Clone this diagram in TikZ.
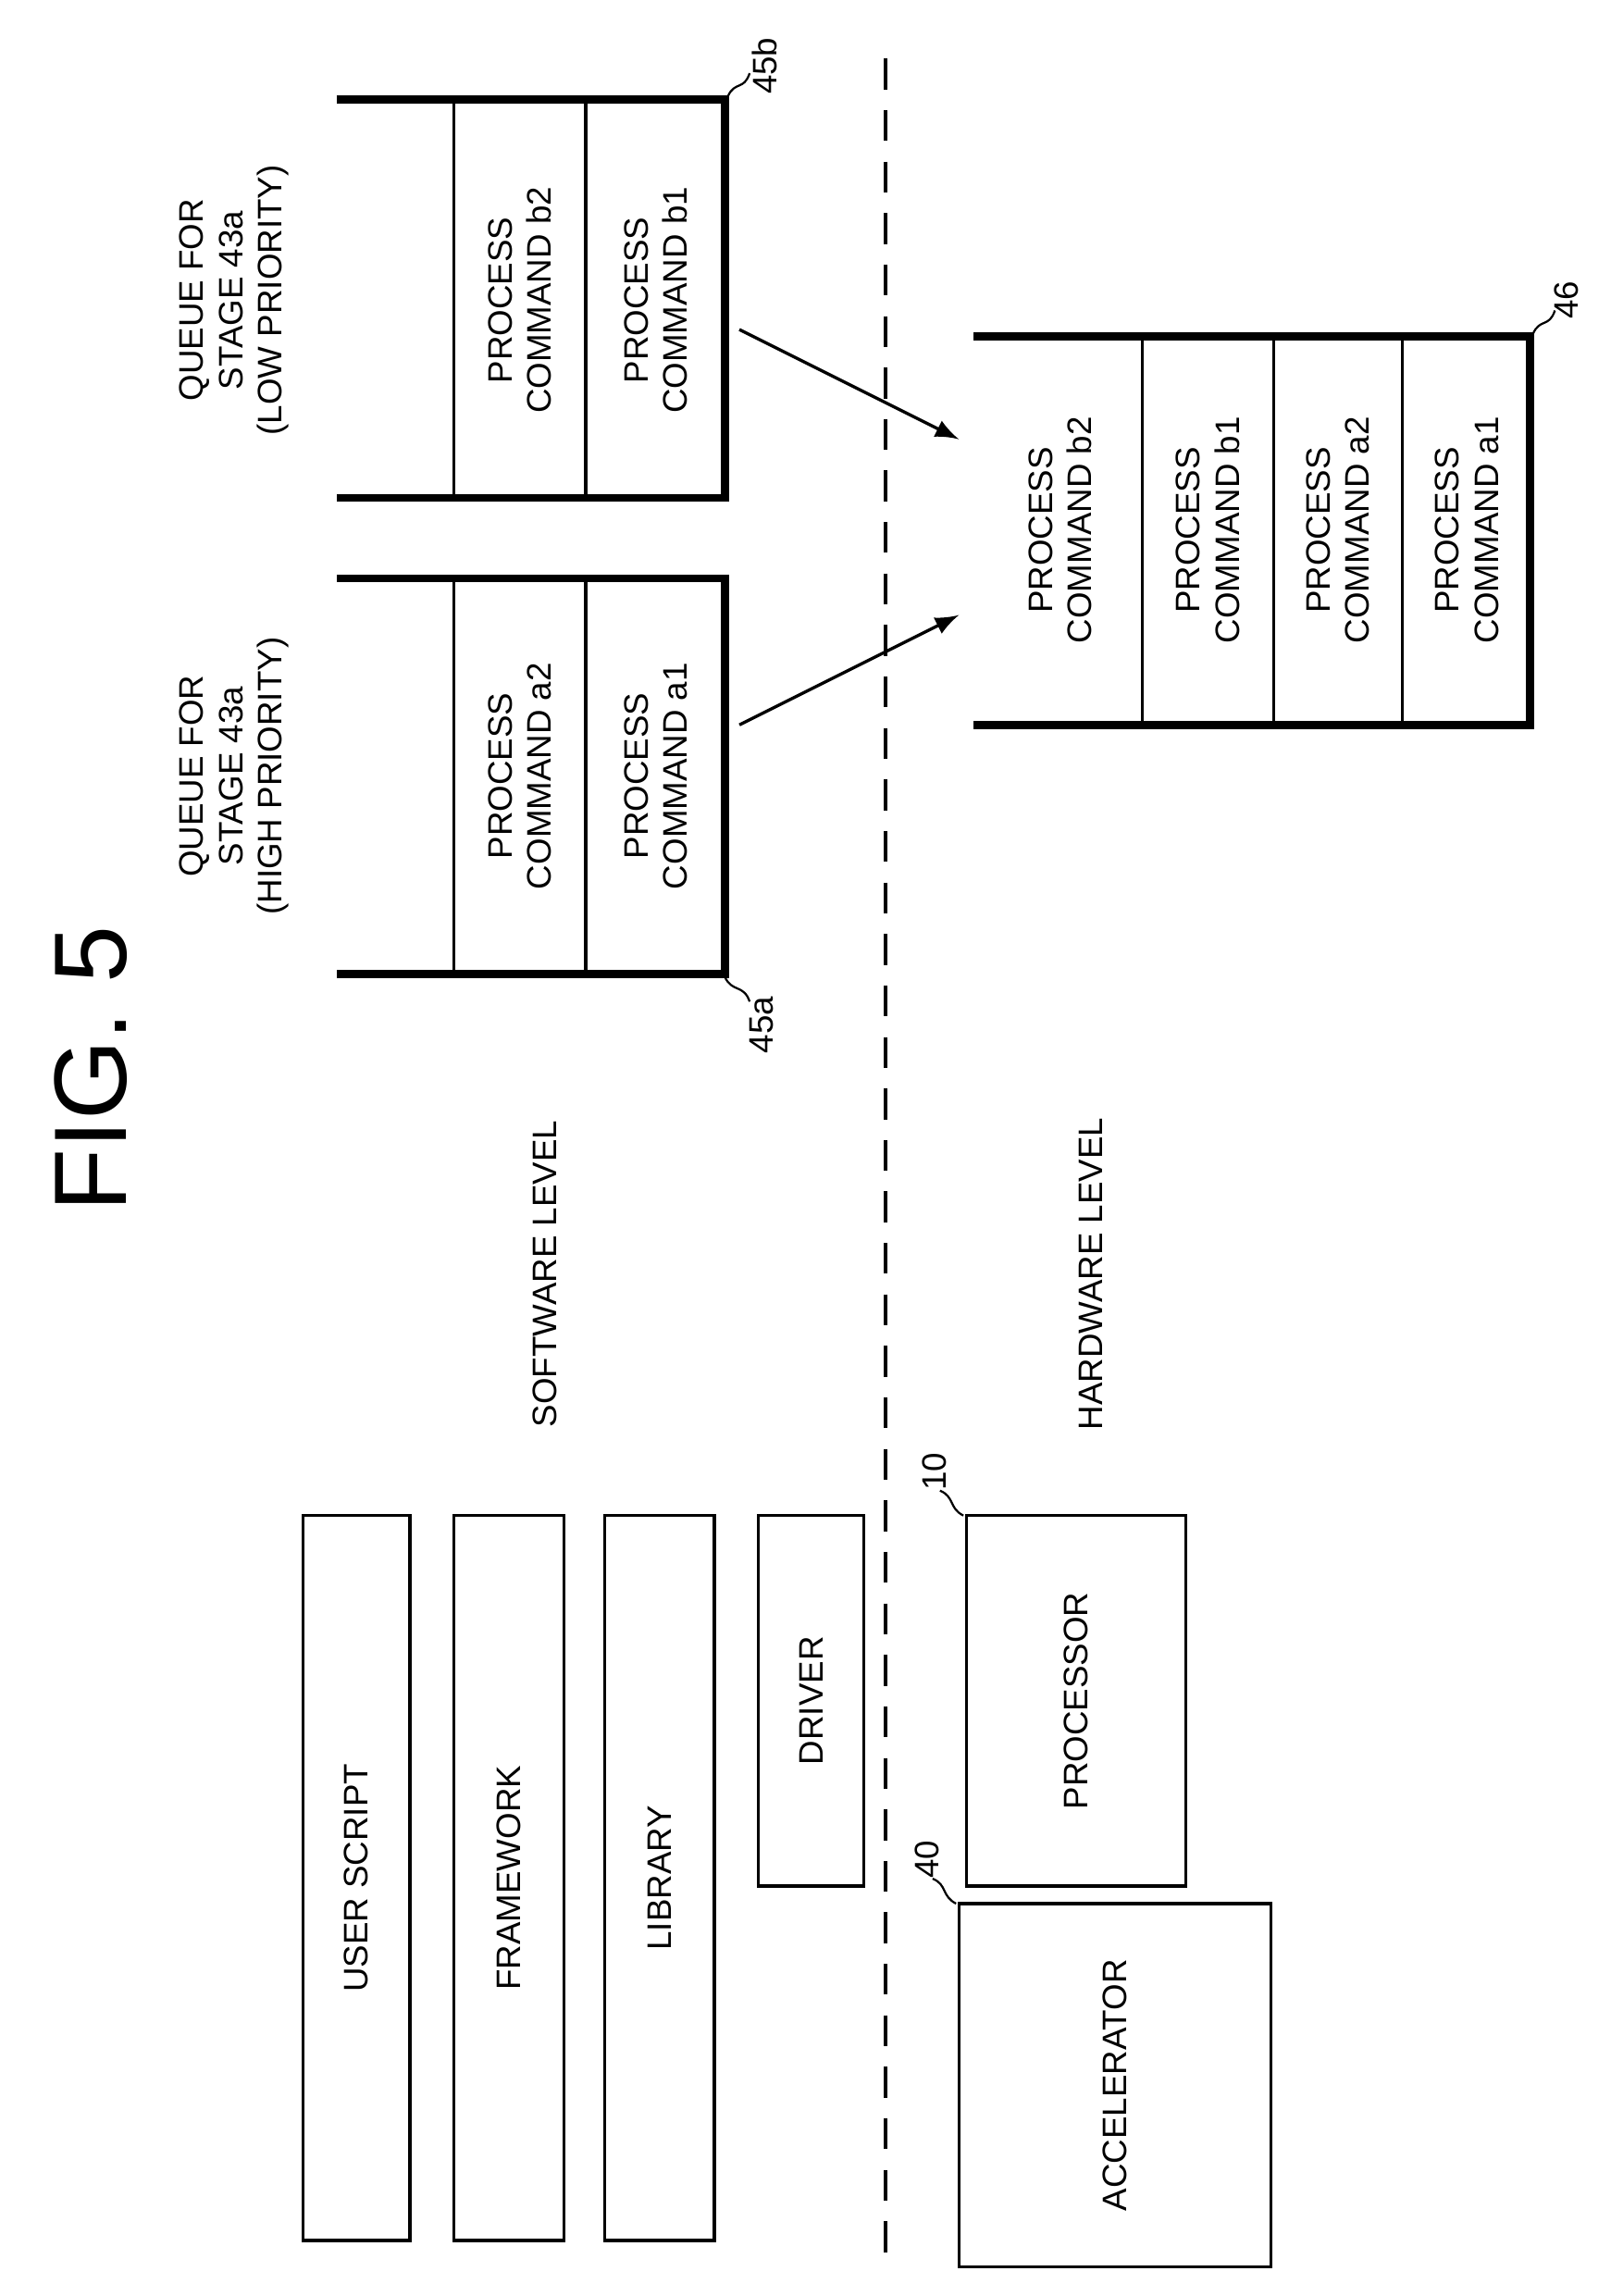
\documentclass[tikz,border=0pt]{standalone}
\usepackage{fontspec}
\setmainfont{Liberation Sans}
\usetikzlibrary{positioning}
\begin{document}
\begin{tikzpicture}[x=0.01cm,y=-0.01cm,
    blk/.style={draw,line width=0.6pt,inner sep=0pt},
    vtxt/.style={rotate=90,font=\fontsize{6.6}{7.6}\selectfont,align=center},
    wall/.style={line width=1.6pt},
    cell/.style={line width=0.6pt},
    lead/.style={line width=0.4pt},
    ]
    \useasboundingbox (0,0) rectangle (1100,1568);
    \node[rotate=90,font=\fontsize{20}{20}\selectfont] (fig) at (62,730) {FIG. 5};
    \draw[dashed,line width=0.7pt,dash pattern=on 6pt off 4pt] (605,40) -- (605,1545);
    % software stack
    \draw[blk] (207,1035) rectangle (280,1530) node[midway,vtxt] (us) {USER SCRIPT};
    \draw[blk] (310,1035) rectangle (385,1530) node[midway,vtxt] (fw) {FRAMEWORK};
    \draw[blk] (413,1035) rectangle (488,1530) node[midway,vtxt] (lib) {LIBRARY};
    \draw[blk] (518,1035) rectangle (590,1288) node[midway,vtxt] (drv) {DRIVER};
    % hardware
    \draw[blk] (660,1035) rectangle (810,1288) node[midway,vtxt] (proc) {PROCESSOR};
    \draw[blk] (655,1300) rectangle (868,1548) node[midway,vtxt] (acc) {ACCELERATOR};
    \draw[lead] (658,1035) .. controls (648,1030) and (652,1022) .. (642,1018);
    \node[vtxt] at (638,1005) {10};
    \draw[lead] (653,1300) .. controls (643,1295) and (647,1287) .. (637,1283);
    \node[vtxt] at (633,1270) {40};
    \node[vtxt] (sw) at (372,870) {SOFTWARE LEVEL};
    \node[vtxt] (hw) at (745,870) {HARDWARE LEVEL};
    % queue 45a
    \draw[wall] (230,395) -- (495,395) -- (495,665) -- (230,665);
    \draw[cell] (310,395) -- (310,665) (400,395) -- (400,665);
    \node[vtxt] (a2) at (355,530) {PROCESS\\COMMAND a2};
    \node[vtxt] (a1) at (448,530) {PROCESS\\COMMAND a1};
    \node[vtxt] at (160,530) {QUEUE FOR\\STAGE 43a\\(HIGH PRIORITY)};
    \draw[lead] (495,667) .. controls (500,678) and (508,672) .. (512,684);
    \node[vtxt] at (520,700) {45a};
    % queue 45b
    \draw[wall] (230,68) -- (495,68) -- (495,340) -- (230,340);
    \draw[cell] (310,68) -- (310,340) (400,68) -- (400,340);
    \node[vtxt] (b2) at (355,205) {PROCESS\\COMMAND b2};
    \node[vtxt] (b1) at (448,205) {PROCESS\\COMMAND b1};
    \node[vtxt] at (160,205) {QUEUE FOR\\STAGE 43a\\(LOW PRIORITY)};
    \draw[lead] (497,66) .. controls (502,55) and (508,62) .. (512,50);
    \node[vtxt] at (522,45) {45b};
    % queue 46
    \draw[wall] (665,230) -- (1045,230) -- (1045,495) -- (665,495);
    \draw[cell] (780,230) -- (780,495) (870,230) -- (870,495) (958,230) -- (958,495);
    \node[vtxt] at (724,362) {PROCESS\\COMMAND b2};
    \node[vtxt] at (825,362) {PROCESS\\COMMAND b1};
    \node[vtxt] at (914,362) {PROCESS\\COMMAND a2};
    \node[vtxt] at (1002,362) {PROCESS\\COMMAND a1};
    \draw[lead] (1047,228) .. controls (1052,217) and (1058,224) .. (1062,212);
    \node[vtxt] at (1070,205) {46};
    % transfers
    \coordinate (fromA) at (505,495);
    \coordinate (toA) at (655,420);
    \coordinate (fromB) at (505,225);
    \coordinate (toB) at (655,300);
    \draw[-latex,line width=0.6pt] (fromA) -- (toA);
    \draw[-latex,line width=0.6pt] (fromB) -- (toB);
\end{tikzpicture}
\end{document}
